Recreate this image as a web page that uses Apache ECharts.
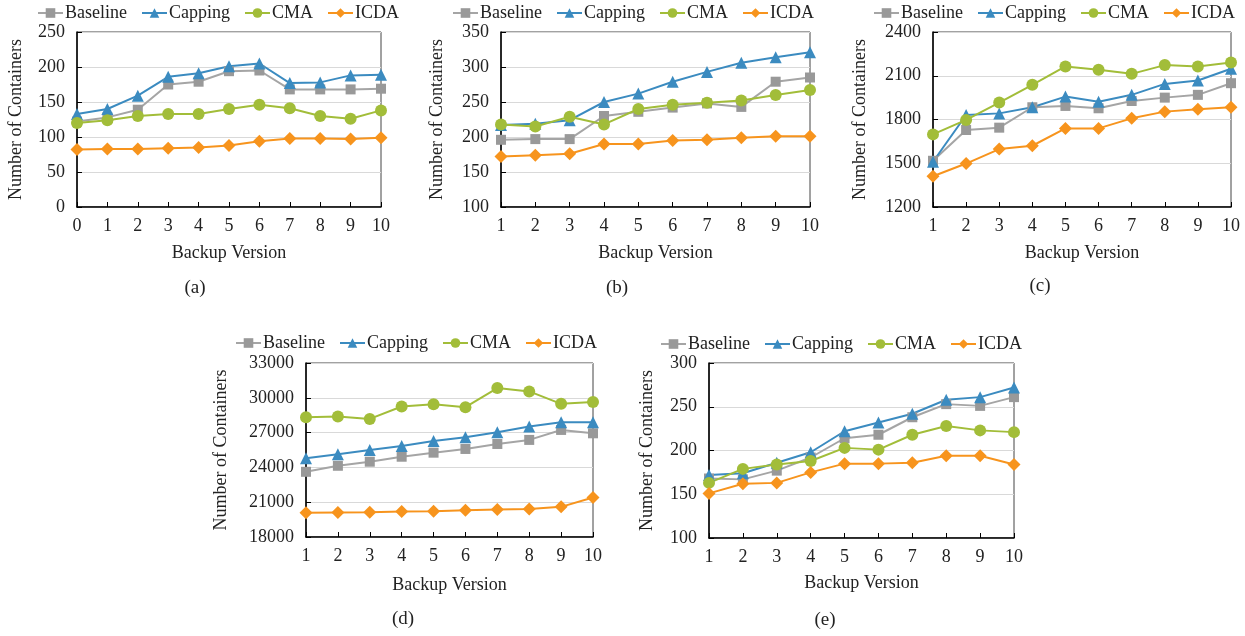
<!DOCTYPE html>
<html>
<head>
<meta charset="utf-8">
<script src="https://cdn.jsdelivr.net/npm/echarts@6/dist/echarts.min.js"></script>
<style>
html,body{margin:0;padding:0;background:#fff;}
#chart{width:1245px;height:636px;}
</style>
</head>
<body>
<div id="chart"></div>
<script>
const seriesNames = ['Baseline', 'Capping', 'CMA', 'ICDA'];
const versionsA = ['0','1','2','3','4','5','6','7','8','9','10'];
const versions = ['1','2','3','4','5','6','7','8','9','10'];

const aBaseline = [122,128,139,175,179,194,195,168,168,168,169];
const aCapping  = [133,140,159,186,191,201,205,177,178,188,189];
const aCMA      = [120,124,130,133,133,140,146,141,130,126,138];
const aICDA     = [82,83,83,84,85,88,94,98,98,97,99];

const bBaseline = [196,197,197,230,236,242,248,243,279,285];
const bCapping  = [217,219,224,250,262,279,293,306,314,321];
const bCMA      = [218,215,229,218,240,246,249,252,260,267];
const bICDA     = [172,174,176,190,190,195,196,199,201,201];

const cBaseline = [1517,1728,1744,1884,1893,1877,1927,1950,1969,2049];
const cCapping  = [1510,1831,1842,1884,1957,1922,1969,2044,2067,2148];
const cCMA      = [1698,1797,1916,2038,2164,2141,2113,2173,2164,2191];
const cICDA     = [1411,1498,1597,1620,1739,1739,1808,1854,1870,1884];

const dBaseline = [23620,24140,24490,24920,25270,25590,26020,26370,27230,26940];
const dCapping  = [24780,25130,25500,25850,26280,26600,27030,27520,27890,27890];
const dCMA      = [28330,28390,28180,29250,29450,29190,30840,30550,29480,29630];
const dICDA     = [20080,20110,20140,20190,20220,20310,20370,20420,20600,21400];

const eBaseline = [168,167,177,192,214,218,238,253,251,261];
const eCapping  = [172,174,186,198,222,232,242,258,261,272];
const eCMA      = [163,179,184,188,203,201,218,228,223,221];
const eICDA     = [151,162,163,175,185,185,186,194,194,184];

const panelLabels = ['(a)','(b)','(c)','(d)','(e)'];
const yMins = [0,100,1200,18000,100];
const yMaxs = [250,350,2400,33000,300];
const yIntervals = [50,50,300,3000,50];

const panels = [
  {cats: versionsA, data: [aBaseline,aCapping,aCMA,aICDA]},
  {cats: versions,  data: [bBaseline,bCapping,bCMA,bICDA]},
  {cats: versions,  data: [cBaseline,cCapping,cCMA,cICDA]},
  {cats: versions,  data: [dBaseline,dCapping,dCMA,dICDA]},
  {cats: versions,  data: [eBaseline,eCapping,eCMA,eICDA]}
];

// layout (styles only)
const FONT = '"Liberation Serif", "Times New Roman", serif';
const grids = [
  {left:77,  top:32,  width:304, height:175},
  {left:501, top:32,  width:309, height:175},
  {left:933, top:32,  width:298, height:175},
  {left:306, top:363, width:287, height:174},
  {left:709, top:363, width:305, height:175}
];
const yNameGaps = [52,55,64,76,53];
const xNameGaps = [37,37,37,39,36];
const legendPos = [
  {left:37, top:4}, {left:452, top:4}, {left:873, top:4},
  {left:235, top:334}, {left:660, top:335}
];
const labelPos = [[195,290],[617,290],[1040,288],[403,621],[825,622]];
const styles = [
  {symbol:'rect', size:10, line:'#A5A5A5', mark:'#999999'},
  {symbol:'triangle', size:12, line:'#3B8BC0', mark:'#3B8BC0'},
  {symbol:'circle', size:12, line:'#A2BD39', mark:'#A2BD39'},
  {symbol:'diamond', size:13, line:'#F7941D', mark:'#F7941D'}
];

const option = {
  backgroundColor: '#fff',
  animation: false,
  textStyle: {fontFamily: FONT},
  title: panelLabels.map((t,i)=>({
    text: t, left: labelPos[i][0], top: labelPos[i][1]-11, textAlign:'center', padding:0,
    textStyle:{fontFamily:FONT, fontSize:19, fontWeight:'normal', color:'#222'}
  })),
  legend: legendPos.map((p,i)=>({
    data: seriesNames, left:p.left, top:p.top, padding:0, itemGap:14, itemWidth:25, itemHeight:12,
    textStyle:{fontFamily:FONT, fontSize:18, color:'#222', padding:[0,0,0,-3]},
    selectedMode:false
  })),
  grid: grids.map(g=>Object.assign({show:true, borderColor:'#444', borderWidth:1, containLabel:false}, g)),
  xAxis: panels.map((p,i)=>({
    type:'category', gridIndex:i, data:p.cats, boundaryGap:false,
    name:'Backup Version', nameLocation:'middle', nameGap:xNameGaps[i],
    nameTextStyle:{fontFamily:FONT, fontSize:18, color:'#222'},
    axisLine:{lineStyle:{color:'#000', width:1.5}},
    axisTick:{inside:true, length:5, alignWithLabel:true, lineStyle:{color:'#000'}},
    axisLabel:{fontFamily:FONT, fontSize:18, color:'#222', margin:10},
    splitLine:{show:false}
  })),
  yAxis: panels.map((p,i)=>({
    type:'value', gridIndex:i, min:yMins[i], max:yMaxs[i], interval:yIntervals[i],
    name:'Number of Containers', nameLocation:'middle', nameGap:yNameGaps[i], nameRotate:90,
    nameTextStyle:{fontFamily:FONT, fontSize:18, color:'#222'},
    axisLine:{show:true, lineStyle:{color:'#000', width:1.5}},
    axisTick:{show:true, inside:true, length:5, lineStyle:{color:'#000'}},
    axisLabel:{fontFamily:FONT, fontSize:18, color:'#222', margin:12, formatter:(v)=>String(v)},
    splitLine:{show:true, lineStyle:{color:'#D9D9D9', width:1}}
  })),
  series: []
};

panels.forEach((p,i)=>{
  p.data.forEach((vals,k)=>{
    const s = styles[k];
    option.series.push({
      name: seriesNames[k], type:'line', xAxisIndex:i, yAxisIndex:i,
      data: vals, symbol:s.symbol, symbolSize:s.size, showSymbol:true,
      lineStyle:{color:s.line, width:2},
      itemStyle:{color:s.mark},
      emphasis:{disabled:true}
    });
  });
});

const chart = echarts.init(document.getElementById('chart'), null, {renderer:'canvas'});
chart.setOption(option);
</script>
</body>
</html>
